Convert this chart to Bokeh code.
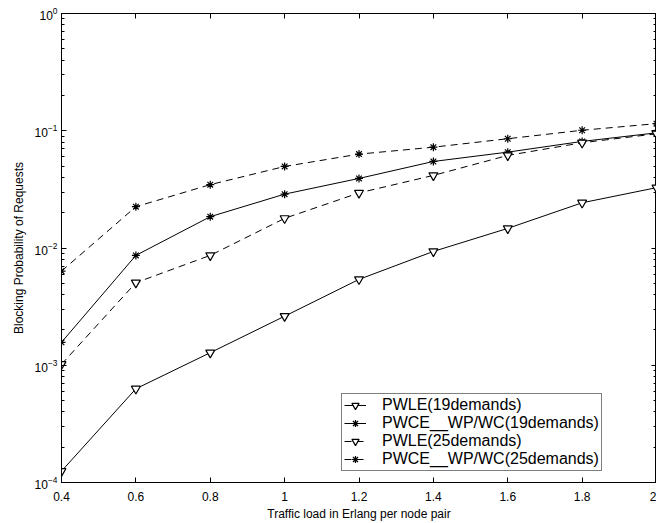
from bokeh.plotting import figure
from bokeh.models import (LogAxis, LinearAxis, FixedTicker, LogTicker,
                          CustomJSTickFormatter, Legend, LegendItem)
from bokeh.embed import file_html
from bokeh.resources import INLINE

# ---- data ----
load = [0.4, 0.6, 0.8, 1.0, 1.2, 1.4, 1.6, 1.8, 2.0]
pwle19 = [1.25e-4, 6.3e-4, 1.28e-3, 2.62e-3, 5.4e-3, 9.35e-3, 1.47e-2, 2.43e-2, 3.27e-2]
pwce19 = [1.57e-3, 8.65e-3, 1.85e-2, 2.88e-2, 3.92e-2, 5.47e-2, 6.57e-2, 8.11e-2, 9.6e-2]
pwle25 = [1.02e-3, 5.06e-3, 8.65e-3, 1.79e-2, 2.95e-2, 4.16e-2, 6.16e-2, 7.9e-2, 9.42e-2]
pwce25 = [6.35e-3, 2.25e-2, 3.47e-2, 4.96e-2, 6.32e-2, 7.24e-2, 8.55e-2, 0.101, 0.115]
x_ticks = [0.4, 0.6, 0.8, 1.0, 1.2, 1.4, 1.6, 1.8, 2.0]
labels = ["PWLE(19demands)", "PWCE__WP/WC(19demands)",
          "PWLE(25demands)", "PWCE__WP/WC(25demands)"]

FONT = "Liberation Sans"

p = figure(width=656, height=523, y_axis_type="log",
           x_range=(0.4, 2.0), y_range=(1e-4, 1),
           output_backend="svg", toolbar_location=None,
           min_border_left=61, min_border_top=13, min_border_right=0,
           min_border_bottom=40)
p.xgrid.visible = False
p.ygrid.visible = False
p.outline_line_color = "black"
p.outline_line_width = 1
p.background_fill_color = "white"
p.border_fill_color = "white"

xfmt = CustomJSTickFormatter(code="return tick.toFixed(1).replace(/\\.0$/, '');")
blank = CustomJSTickFormatter(code="return '';")

# bottom axis
xa = p.xaxis[0]
xa.ticker = FixedTicker(ticks=x_ticks)
xa.formatter = xfmt
xa.axis_label = "Traffic load in Erlang per node pair"
# left axis
ya = p.yaxis[0]
ya.ticker = LogTicker(num_minor_ticks=10)
ya.axis_label = "Blocking Probability of Requests"

for ax in (xa, ya):
    ax.major_tick_in = 5
    ax.major_tick_out = 0
    ax.minor_tick_in = 3
    ax.minor_tick_out = 0
    ax.axis_line_color = "black"
    ax.major_tick_line_color = "black"
    ax.minor_tick_line_color = "black"
    ax.major_label_text_font = FONT
    ax.major_label_text_font_size = "12px"
    ax.major_label_text_color = "black"
    ax.axis_label_text_font = FONT
    ax.axis_label_text_font_size = "12px"
    ax.axis_label_text_font_style = "normal"
    ax.axis_label_text_color = "black"
xa.minor_tick_line_color = None
xa.major_label_standoff = 9
xa.axis_label_standoff = 3
ya.major_label_standoff = 4
ya.axis_label_standoff = 6

# mirrored ticks (top / right), no labels
top = LinearAxis(ticker=FixedTicker(ticks=x_ticks), formatter=blank)
right = LogAxis(ticker=LogTicker(num_minor_ticks=10), formatter=blank)
for ax in (top, right):
    ax.major_tick_in = 5
    ax.major_tick_out = 0
    ax.minor_tick_in = 3
    ax.minor_tick_out = 0
    ax.major_label_text_font_size = "1px"
    ax.major_label_standoff = 0
    ax.axis_line_color = "black"
    ax.major_tick_line_color = "black"
    ax.minor_tick_line_color = "black"
top.minor_tick_line_color = None
p.add_layout(top, "above")
p.add_layout(right, "right")

# ---- series ----
specs = [
    (pwle19, "solid", "inverted_triangle", 9, "white"),
    (pwce19, "solid", "asterisk", 8, None),
    (pwle25, "7 5", "inverted_triangle", 9, "white"),
    (pwce25, "7 5", "asterisk", 8, None),
]
items = []
for (ys, dash, marker, size, fill), lab in zip(specs, labels):
    ln = p.line(load, ys, line_color="black", line_width=1, line_dash=dash)
    sc = p.scatter(load, ys, marker=marker, size=size, line_color="black",
                   line_width=1.2, fill_color=fill)
    items.append(LegendItem(label=lab, renderers=[ln, sc]))

legend = Legend(items=items, location=(280, 11))
legend.label_text_font = FONT
legend.label_text_font_size = "16px"
legend.label_text_color = "black"
legend.border_line_color = "black"
legend.border_line_width = 1
legend.background_fill_color = "white"
legend.background_fill_alpha = 1
legend.padding = 2
legend.spacing = 0
legend.margin = 0
legend.glyph_width = 22
legend.glyph_height = 18
legend.label_height = 18
legend.label_standoff = 16
p.add_layout(legend, "center")

open("out.html", "w").write(file_html(p, INLINE))
